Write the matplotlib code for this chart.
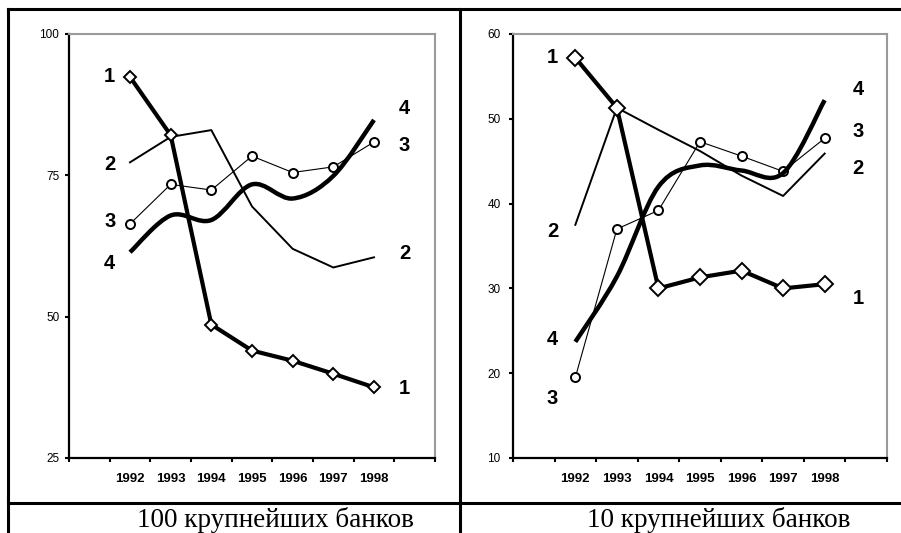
import matplotlib
matplotlib.use('Agg')
import matplotlib.pyplot as plt
from matplotlib.path import Path
from matplotlib.patches import PathPatch
from matplotlib.lines import Line2D

years = [1992, 1993, 1994, 1995, 1996, 1997, 1998]

# 100 largest banks
top100_1 = [92.4, 82.1, 48.6, 44.0, 42.2, 39.9, 37.5]
top100_2 = [77.3, 81.8, 83.0, 69.5, 62.0, 58.7, 60.5]
top100_3 = [66.4, 73.4, 72.4, 78.4, 75.5, 76.5, 80.9]
top100_4 = [61.4, 67.9, 67.1, 73.4, 70.9, 74.9, 84.8]

# 10 largest banks
top10_1 = [57.2, 51.3, 30.0, 31.3, 32.1, 30.0, 30.5]
top10_2 = [37.5, 51.3, 48.7, 46.2, 43.3, 40.9, 45.9]
top10_3 = [19.5, 37.0, 39.2, 47.3, 45.6, 43.8, 47.7]
top10_4 = [23.7, 31.4, 42.0, 44.5, 43.9, 43.6, 52.2]

# curve labels: (text, x, y)
labels_100 = [('1', 1991.5, 92.5), ('2', 1991.5, 77.0), ('3', 1991.5, 66.8), ('4', 1991.5, 59.4),
              ('4', 1998.75, 86.9), ('3', 1998.75, 80.3), ('2', 1998.75, 61.1), ('1', 1998.75, 37.3)]
labels_10 = [('1', 1991.45, 57.2), ('2', 1991.45, 36.7), ('4', 1991.45, 24.0), ('3', 1991.45, 17.0),
             ('4', 1998.8, 53.5), ('3', 1998.8, 48.5), ('2', 1998.8, 44.1), ('1', 1998.8, 28.8)]

captions = ['100 крупнейших банков', '10 крупнейших банков']


def smooth_path(xs, ys):
    # Excel-style smoothed line: cubic Bezier through the points
    verts = [(xs[0], ys[0])]
    codes = [Path.MOVETO]
    n = len(xs)
    for i in range(n - 1):
        xp, yp = (xs[i - 1], ys[i - 1]) if i > 0 else (xs[i], ys[i])
        xn, yn = (xs[i + 2], ys[i + 2]) if i + 2 < n else (xs[i + 1], ys[i + 1])
        c1 = (xs[i] + (xs[i + 1] - xp) / 6, ys[i] + (ys[i + 1] - yp) / 6)
        c2 = (xs[i + 1] - (xn - xs[i]) / 6, ys[i + 1] - (yn - ys[i]) / 6)
        verts += [c1, c2, (xs[i + 1], ys[i + 1])]
        codes += [Path.CURVE4] * 3
    return Path(verts, codes)


def draw_panel(ax, s1, s2, s3, s4, ylim, yticks, labels, ms_d, ypad):
    ax.plot(years, s3, color='black', lw=0.8, marker='o', ms=6.5, mfc='white', mec='black', mew=1.4, zorder=2)
    ax.plot(years, s2, color='black', lw=1.4, zorder=3)
    ax.add_patch(PathPatch(smooth_path(years, s4), fill=False, lw=3.2, edgecolor='black',
                           capstyle='butt', zorder=4))
    ax.plot(years, s1, color='black', lw=3.0, marker='D', ms=ms_d, mfc='white', mec='black', mew=1.4,
            zorder=5, solid_capstyle='butt')
    for t, x, y in labels:
        ax.text(x, y, t, fontsize=14.5, fontweight='bold', ha='center', va='center', family='Liberation Sans')

    ax.set_xlim(1990.5, 1999.5)
    ax.set_ylim(*ylim)
    ax.set_yticks(yticks)
    ax.set_yticklabels([str(v) for v in yticks], fontsize=8.5, family='Liberation Sans')
    ax.set_xticks(years)
    ax.set_xticklabels([str(y) for y in years], fontsize=9.5, fontweight='bold', family='Liberation Sans')
    ax.set_xticks([1990.5 + k for k in range(10)], minor=True)
    ax.tick_params(axis='x', which='major', length=0, pad=11)
    ax.tick_params(axis='x', which='minor', length=3, width=1.5, direction='out')
    ax.tick_params(axis='y', length=3, width=1.5, pad=ypad)
    for side in ['left', 'bottom']:
        ax.spines[side].set_linewidth(1.6)
        ax.spines[side].set_color('black')
    for side in ['top', 'right']:
        ax.spines[side].set_linewidth(1.5)
        ax.spines[side].set_color('#9a9a9a')


fig = plt.figure(figsize=(9.01, 5.33), dpi=100)
ax1 = fig.add_axes([69 / 901, 75 / 533, 366 / 901, 424 / 533])
ax2 = fig.add_axes([513 / 901, 75 / 533, 374 / 901, 424 / 533])

draw_panel(ax1, top100_1, top100_2, top100_3, top100_4, (25, 100), [25, 50, 75, 100], labels_100, 6.5, 4)
draw_panel(ax2, top10_1, top10_2, top10_3, top10_4, (10, 60), [10, 20, 30, 40, 50, 60], labels_10, 8, 6)

fig.text(275 / 901, 6 / 533, captions[0], fontsize=19.5, family='Liberation Serif', ha='center', va='baseline')
fig.text(719 / 901, 6 / 533, captions[1], fontsize=19.5, family='Liberation Serif', ha='center', va='baseline')

# frame of the table
frame = dict(color='black', lw=2.2, transform=fig.transFigure)
fig.add_artist(Line2D([8 / 901, 1], [524 / 533, 524 / 533], **frame))
fig.add_artist(Line2D([8 / 901, 8 / 901], [0, 524 / 533], **frame))
fig.add_artist(Line2D([460 / 901, 460 / 901], [0, 524 / 533], **frame))
fig.add_artist(Line2D([8 / 901, 1], [30 / 533, 30 / 533], **frame))

fig.savefig('out.png', dpi=100)
